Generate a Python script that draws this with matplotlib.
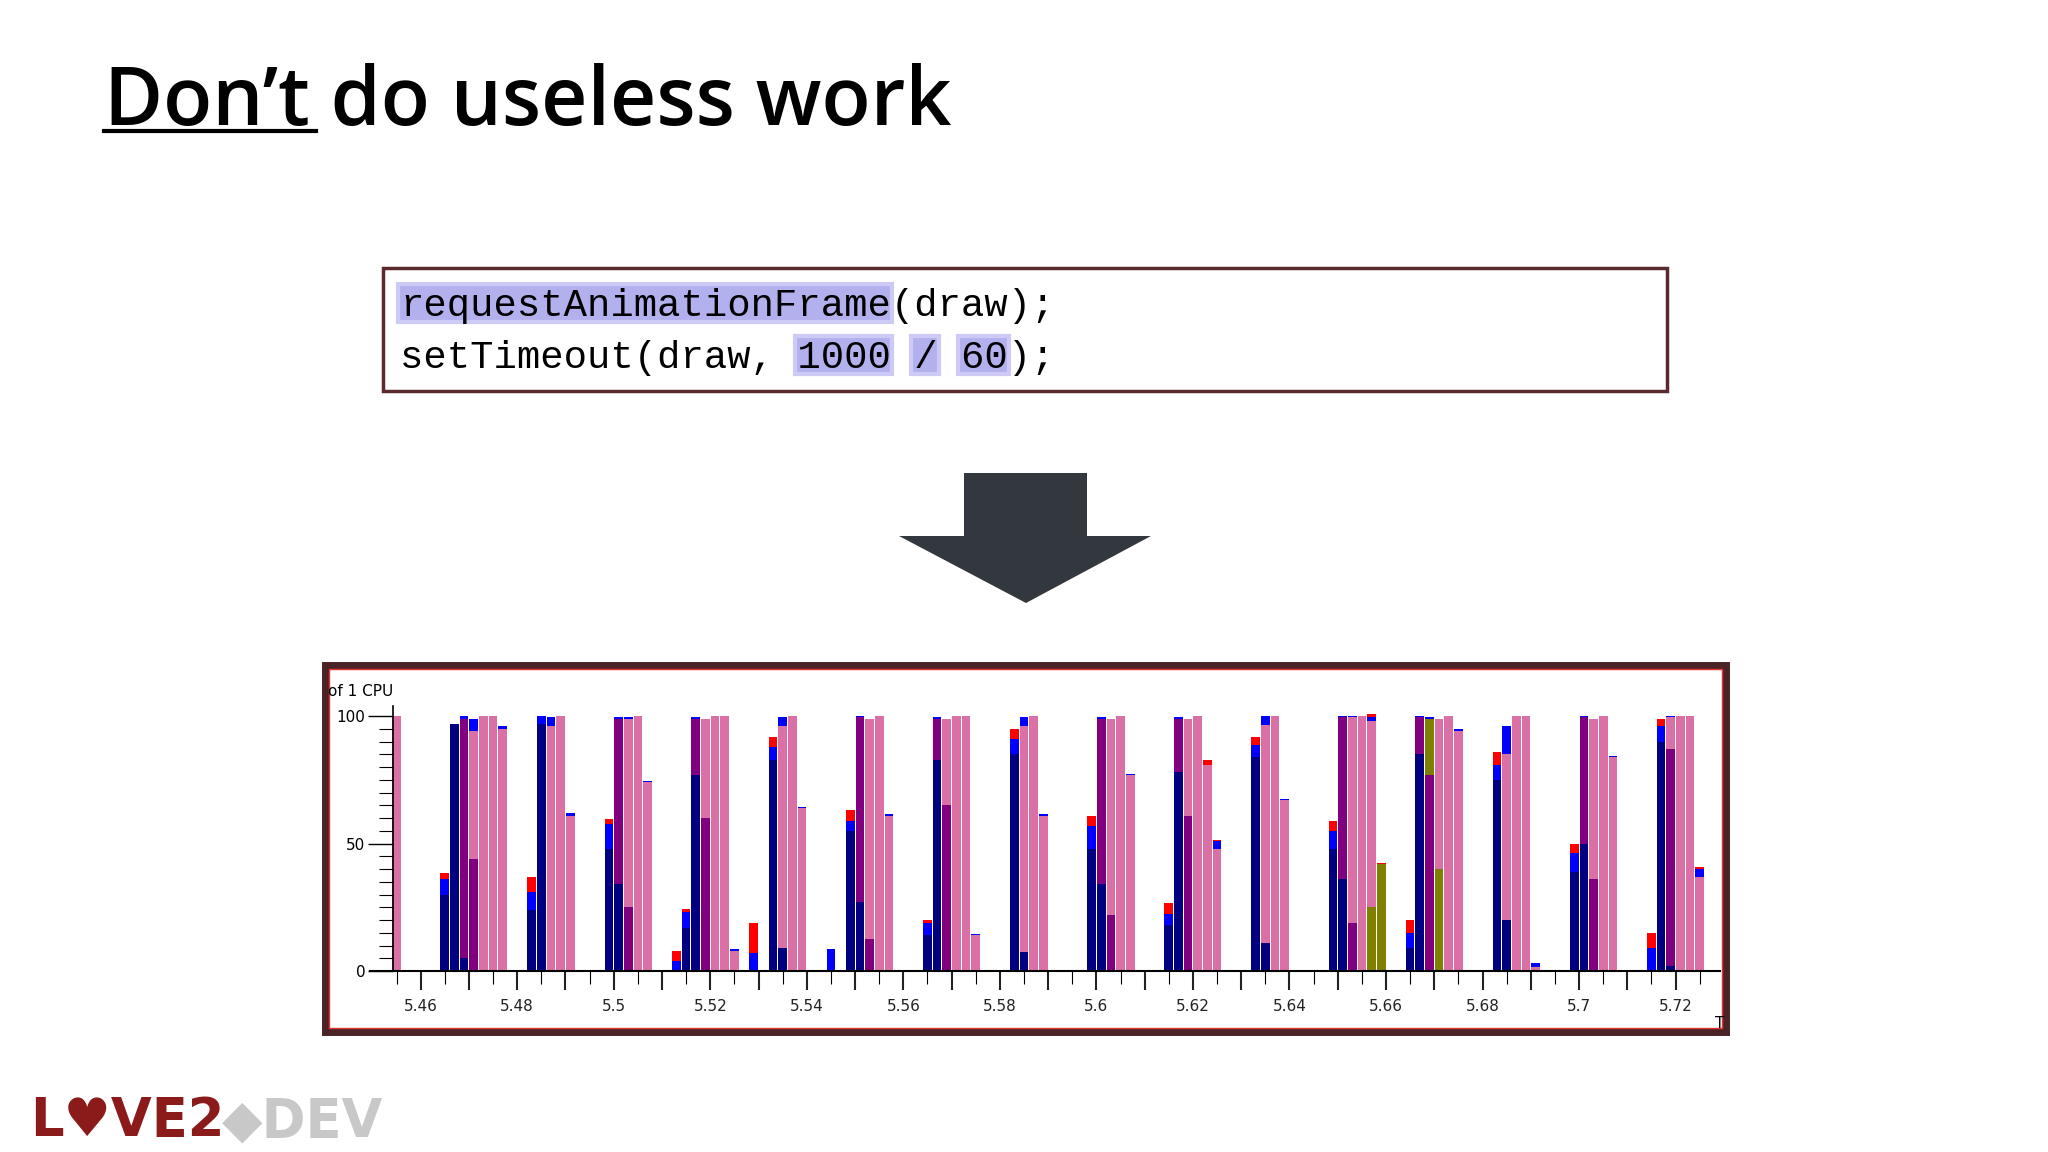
import matplotlib.pyplot as plt
from matplotlib.patches import Rectangle, Polygon
import numpy as np

# bar positions (seconds) and stacked segment heights (% of 1 CPU)
times = [5.455, 5.465, 5.467, 5.469, 5.471, 5.473, 5.475, 5.477,
         5.483, 5.485, 5.487, 5.489, 5.491,
         5.499, 5.501, 5.503, 5.505, 5.507,
         5.513, 5.515, 5.517, 5.519, 5.521, 5.523, 5.525, 5.529,
         5.533, 5.535, 5.537, 5.539, 5.545,
         5.549, 5.551, 5.553, 5.555, 5.557,
         5.565, 5.567, 5.569, 5.571, 5.573, 5.575,
         5.583, 5.585, 5.587, 5.589,
         5.599, 5.601, 5.603, 5.605, 5.607,
         5.615, 5.617, 5.619, 5.621, 5.623, 5.625,
         5.633, 5.635, 5.637, 5.639,
         5.649, 5.651, 5.653, 5.655, 5.657, 5.659,
         5.665, 5.667, 5.669, 5.671, 5.673, 5.675,
         5.683, 5.685, 5.687, 5.689, 5.691,
         5.699, 5.701, 5.703, 5.705, 5.707,
         5.715, 5.717, 5.719, 5.721, 5.723, 5.725]
navy = [0, 30, 97, 5, 0, 0, 0, 0,
        24, 97, 0, 0, 0,
        48, 34, 0, 0, 0,
        0, 17, 77, 0, 0, 0, 0, 0,
        83, 9, 0, 0, 0,
        55, 27, 0, 0, 0,
        14, 83, 0, 0, 0, 0,
        85, 7.5, 0, 0,
        48, 34, 0, 0, 0,
        18, 78, 0, 0, 0, 0,
        84, 11, 0, 0,
        48, 36, 0, 0, 0, 0,
        9, 85, 0, 0, 0, 0,
        75, 20, 0, 0, 0,
        39, 50, 0, 0, 0,
        0, 90, 2, 0, 0, 0]
purple = [0, 0, 0, 94, 44, 0, 0, 0,
          0, 0, 0, 0, 0,
          0, 65, 25, 0, 0,
          0, 0, 22, 60, 0, 0, 0, 0,
          0, 0, 0, 0, 0,
          0, 72.5, 12.5, 0, 0,
          0, 16, 65, 0, 0, 0,
          0, 0, 0, 0,
          0, 65, 22, 0, 0,
          0, 21, 61, 0, 0, 0,
          0, 0, 0, 0,
          0, 63.5, 19, 0, 0, 0,
          0, 14.5, 77, 0, 0, 0,
          0, 0, 0, 0, 0,
          0, 49.5, 36, 0, 0,
          0, 0, 85, 0, 0, 0]
olive = [0] * 65 + [25, 42, 0, 0, 22, 40, 0, 0] + [0] * 16
pink = [100, 0, 0, 0, 50, 100, 100, 95,
        0, 0, 96, 100, 61,
        0, 0, 74, 100, 74,
        0, 0, 0, 39, 100, 100, 8, 0,
        0, 87, 100, 64, 0,
        0, 0, 86.5, 100, 61,
        0, 0, 34, 100, 100, 14,
        0, 88.5, 100, 61,
        0, 0, 77, 100, 77,
        0, 0, 38, 100, 81, 48,
        0, 85.5, 100, 67,
        0, 0, 80.5, 100, 73, 0,
        0, 0, 0, 59, 100, 94,
        0, 65, 100, 100, 1.5,
        0, 0, 63, 100, 84,
        0, 0, 12.5, 100, 100, 37]
blue = [0, 6, 0, 1, 5, 0, 0, 1,
        7, 3, 3.5, 0, 1,
        9.5, 0.5, 0.5, 0, 0.5,
        4, 6, 0.5, 0, 0, 0, 0.5, 7,
        5, 3.5, 0, 0.5, 8.5,
        4, 0.5, 0, 0, 0.5,
        5, 0.5, 0, 0, 0, 0.5,
        6, 3.5, 0, 0.5,
        9, 0.5, 0, 0, 0.5,
        4.5, 0.5, 0, 0, 0, 3,
        4.5, 3.5, 0, 0.5,
        7, 0.5, 0.5, 0, 1.5, 0,
        6, 0.5, 0.5, 0, 0, 1,
        6, 11, 0, 0, 1.5,
        7.5, 0.5, 0, 0, 0.5,
        9, 6, 0.5, 0, 0, 3]
red = [0, 2.5, 0, 0, 0, 0, 0, 0,
       6, 0, 0, 0, 0,
       2, 0, 0, 0, 0,
       4, 1.5, 0, 0, 0, 0, 0, 12,
       4, 0, 0, 0, 0,
       4, 0, 0, 0, 0,
       1, 0, 0, 0, 0, 0,
       4, 0, 0, 0,
       4, 0, 0, 0, 0,
       4, 0, 0, 0, 2, 0.5,
       3.5, 0, 0, 0,
       4, 0, 0, 0, 1.5, 0.5,
       5, 0, 0, 0, 0, 0,
       5, 0, 0, 0, 0,
       3.5, 0, 0, 0, 0,
       6, 3, 0, 0, 0, 1]

W, H = 2048, 1152
fig = plt.figure(figsize=(W / 100, H / 100), dpi=100)
fig.patch.set_facecolor('white')


def fx(x):
    return x / W


def fy(y):
    return 1 - y / H


# title
fig.text(fx(104), fy(125), "Don\u2019t do useless work", fontsize=58, fontweight='semibold',
         family=['Open Sans', 'DejaVu Sans'], color='black', va='baseline')
fig.add_artist(plt.Line2D([fx(104), fx(316)], [fy(131), fy(131)], color='black', lw=3))

# code box
fig.add_artist(Rectangle((fx(383), fy(391)), fx(1667) - fx(383), fy(268) - fy(391),
                         transform=fig.transFigure, fill=False, edgecolor='#5a2a2e', lw=2.5))
cw = 0.6 * 28 * 100 / 72
x0 = 400
for start, n, ytop in [(0, 21, 284), (17, 4, 336), (22, 1, 336), (24, 2, 336)]:
    fig.add_artist(Rectangle((fx(x0 + start * cw - 2), fy(ytop + 38)), (n * cw + 4) / W, 38 / H,
                             transform=fig.transFigure, facecolor='#b3b0ee', edgecolor='#cdcaf5',
                             lw=3, zorder=1))
fig.text(fx(x0), fy(316), "requestAnimationFrame(draw);", fontsize=28,
         family='Liberation Mono', va='baseline', zorder=2)
fig.text(fx(x0), fy(368), "setTimeout(draw, 1000 / 60);", fontsize=28,
         family='Liberation Mono', va='baseline', zorder=2)

# arrow
arrow = [(964, 473), (1087, 473), (1087, 536), (1151, 536), (1026, 603), (899, 536), (964, 536)]
fig.add_artist(Polygon([(fx(a), fy(b)) for a, b in arrow], closed=True,
                       transform=fig.transFigure, facecolor='#33383f', edgecolor='none'))

# chart frame
fig.add_artist(Rectangle((fx(325), fy(1032)), fx(1726) - fx(325), fy(665) - fy(1032),
                         transform=fig.transFigure, fill=False, edgecolor='#4a2326', lw=5))
fig.add_artist(Rectangle((fx(329), fy(1028)), fx(1722) - fx(329), fy(669) - fy(1028),
                         transform=fig.transFigure, fill=False, edgecolor='#e03030', lw=1))

ax = fig.add_axes([fx(370), fy(971), (1720 - 370) / W, (971 - 706) / H])
ax.set_xlim(5.4495, 5.7292)
ax.set_ylim(0, 104)
ax.patch.set_alpha(0)

x = np.array(times)
bottom = np.zeros(len(x))
for vals, col in [(navy, '#000080'), (purple, '#800080'), (olive, '#808000'),
                  (pink, '#da70a6'), (blue, '#0000ff'), (red, '#ff0000')]:
    v = np.array(vals, dtype=float)
    ax.bar(x, v, width=0.0018, bottom=bottom, color=col, linewidth=0)
    bottom += v

for s in ['top', 'right']:
    ax.spines[s].set_visible(False)
ax.spines['left'].set_position(('data', 5.4543))
ax.spines['bottom'].set_linewidth(1.5)
ax.spines['left'].set_linewidth(1.2)
ticks = np.arange(5.46, 5.7201, 0.01).round(2)
ax.set_xticks(ticks)
ax.set_xticklabels([f"{v:g}" if i % 2 == 0 else "" for i, v in enumerate(ticks)])
ax.set_xticks(np.arange(5.455, 5.726, 0.005), minor=True)
ax.tick_params(axis='x', which='major', length=14, width=1.5, labelsize=11, pad=6, colors='#222222')
ax.tick_params(axis='x', which='minor', length=9, width=0.8)
ax.set_yticks([0, 50, 100])
ax.set_yticks(np.arange(0, 101, 5), minor=True)
ax.tick_params(axis='y', which='major', length=18, width=1, labelsize=11, pad=2)
ax.tick_params(axis='y', which='minor', length=10, width=0.8)
fig.text(fx(328), fy(692), "of 1 CPU", fontsize=11, va='center')
fig.text(fx(1715), fy(1028), "T", fontsize=11)

# logo
fig.text(fx(30), fy(1136), "L\u2665VE2", fontsize=38, fontweight='bold',
         family='DejaVu Sans', color='#8b1a1a', va='baseline')
fig.text(fx(222), fy(1136), "\u25c6DEV", fontsize=38, fontweight='bold',
         family='DejaVu Sans', color='#c8c8c8', va='baseline')

fig.savefig('out.png', dpi=100)
